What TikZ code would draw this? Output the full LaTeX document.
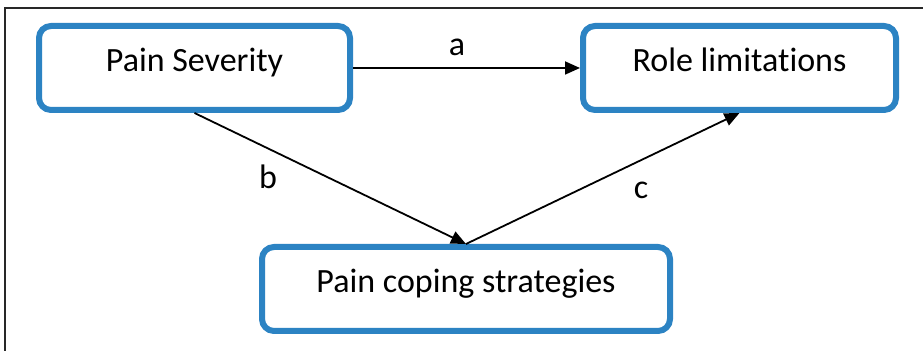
\documentclass[tikz,border=0pt]{standalone}
\usepackage{fontspec}
\setmainfont{Carlito}[Ligatures=NoCommon]
\usepackage{xcolor}
\usepackage{tikz}
\usetikzlibrary{positioning,arrows.meta}
\definecolor{boxblue}{HTML}{2C83C3}
\definecolor{framegray}{RGB}{40,40,40}

\begin{document}
\begin{tikzpicture}[x=0.5pt, y=-0.5pt, factor/.style={draw=boxblue, fill=white, line width=3pt, rounded corners=6pt, minimum height=42pt, text height=0.7em, text depth=0.35em, font=\fontsize{17}{20}\selectfont}, arrow/.style={-{Triangle[length=7.5pt, width=6.5pt]}, draw=black, line width=0.9pt}, path label/.style={font=\fontsize{17}{20}\selectfont, inner sep=0pt}]
\useasboundingbox (0,0) rectangle (923,351);
\draw[framegray, line width=1pt] (5,351) -- (5,8) -- (923,8);
\node[factor, minimum width=155.5pt] (sev) at (194.5,68) {Pain Severity};
\node[factor, minimum width=156.5pt] (role) at (739.5,68) {Role limitations};
\node[factor, minimum width=204pt] (cope) at (466,289) {Pain coping strategies};
\draw[arrow] (sev) -- (role);
\draw[arrow] (sev.south) -- (cope.north);
\draw[arrow] (cope.north) -- (role.south);
\node[path label] (la) at (457,47) {a};
\node[path label] (lb) at (268,177) {b};
\node[path label] (lc) at (641,190) {c};
\end{tikzpicture}
\end{document}
